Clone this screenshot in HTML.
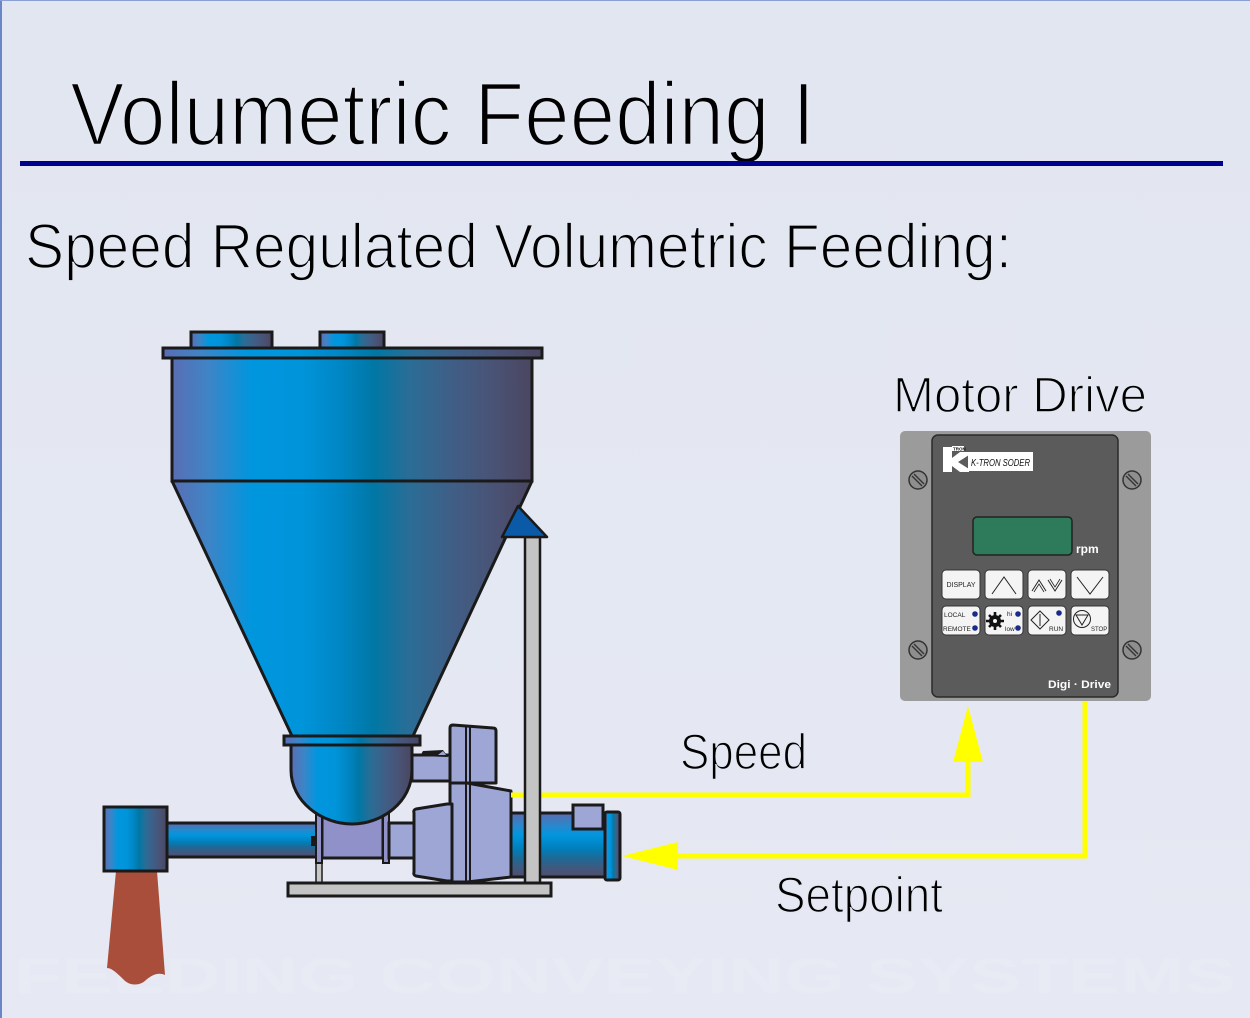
<!DOCTYPE html>
<html>
<head>
<meta charset="utf-8">
<style>
html,body{margin:0;padding:0;background:#e3e7f1;}
svg{display:block;}
text{font-family:"Liberation Sans",sans-serif;}
</style>
</head>
<body>
<svg width="1250" height="1018" viewBox="0 0 1250 1018" xmlns="http://www.w3.org/2000/svg">
<defs>
  <linearGradient id="hg" x1="0" y1="0" x2="1" y2="0">
    <stop offset="0" stop-color="#5a6db4"/>
    <stop offset="0.1" stop-color="#3f84c6"/>
    <stop offset="0.22" stop-color="#0096de"/>
    <stop offset="0.36" stop-color="#0094da"/>
    <stop offset="0.47" stop-color="#0086c4"/>
    <stop offset="0.56" stop-color="#0077a5"/>
    <stop offset="0.66" stop-color="#2a6d96"/>
    <stop offset="0.78" stop-color="#405e86"/>
    <stop offset="0.9" stop-color="#4a5274"/>
    <stop offset="1" stop-color="#4a4660"/>
  </linearGradient>
  <linearGradient id="vg" x1="0" y1="0" x2="0" y2="1">
    <stop offset="0" stop-color="#5a6cb0"/>
    <stop offset="0.2" stop-color="#2a88cc"/>
    <stop offset="0.35" stop-color="#0096de"/>
    <stop offset="0.55" stop-color="#0080bc"/>
    <stop offset="0.7" stop-color="#1c6a98"/>
    <stop offset="0.85" stop-color="#3e5a80"/>
    <stop offset="1" stop-color="#524e6a"/>
  </linearGradient>
  <linearGradient id="bg" x1="0" y1="0" x2="0" y2="1">
    <stop offset="0" stop-color="#e2e6f0"/>
    <stop offset="1" stop-color="#e6e9f3"/>
  </linearGradient>
</defs>

<rect x="0" y="0" width="1250" height="1018" fill="url(#bg)"/>
<rect x="0" y="0" width="2" height="1018" fill="#6a86c8"/>
<rect x="0" y="0" width="1250" height="1" fill="#8aa0d4"/>

<!-- watermark -->
<text x="14" y="993" font-size="50" font-weight="bold" fill="#ffffff" fill-opacity="0.12" textLength="1222" lengthAdjust="spacingAndGlyphs">FEEDING CONVEYING SYSTEMS</text>

<!-- Title -->
<text x="70" y="145" font-size="90" fill="#000" stroke="#e3e7f1" stroke-width="2.5" textLength="745" lengthAdjust="spacingAndGlyphs">Volumetric Feeding I</text>
<rect x="20" y="161" width="1203" height="5" fill="#00008f"/>
<text x="25" y="268" font-size="63" fill="#000" stroke="#e3e7f1" stroke-width="1.8" textLength="987" lengthAdjust="spacingAndGlyphs">Speed Regulated Volumetric Feeding:</text>

<!-- Motor Drive label -->
<text x="893" y="412" font-size="50" fill="#000" stroke="#e3e7f1" stroke-width="1.5" textLength="254" lengthAdjust="spacingAndGlyphs">Motor Drive</text>

<!-- ===== Feeder ===== -->
<path d="M116,871 L157,871 L165,975 C158,972 152,975 146,980 C140,986 130,986 124,980 C118,974 112,968 107,968 Z" fill="#a84e3a"/>

<rect x="167" y="823" width="151" height="34" fill="url(#vg)" stroke="#1a1a1a" stroke-width="3"/>
<rect x="104" y="807" width="63" height="64" fill="url(#hg)" stroke="#1a1a1a" stroke-width="3"/>
<rect x="311" y="836" width="5" height="10" fill="#1a1a1a"/>

<rect x="316" y="857" width="6" height="27" fill="#c8c8c8" stroke="#1a1a1a" stroke-width="1.5"/>

<rect x="322" y="815" width="61" height="43" fill="#9091c9" stroke="#1a1a1a" stroke-width="3"/>
<rect x="316" y="812" width="6" height="51" fill="#9091c9" stroke="#1a1a1a" stroke-width="2"/>
<rect x="383" y="812" width="6" height="51" fill="#9091c9" stroke="#1a1a1a" stroke-width="2"/>
<rect x="389" y="823" width="25" height="35" fill="#9ea6d6" stroke="#1a1a1a" stroke-width="3"/>

<path d="M291,745 L291,770 C291,802 322,824 352,824 C382,824 412,802 412,770 L412,745 Z" fill="url(#hg)" stroke="#1a1a1a" stroke-width="3"/>

<rect x="412" y="755" width="40" height="26" fill="#9ea6d6" stroke="#1a1a1a" stroke-width="3"/>
<path d="M420,756 L423,751 L443,750 L448,757 Z" fill="#1a1a1a"/>
<path d="M438,755 L443,751 L446,755 Z" fill="#9ea6d6"/>

<polygon points="172,481 532,481 413,736 292,736" fill="url(#hg)" stroke="#1a1a1a" stroke-width="3" stroke-linejoin="round"/>
<rect x="284" y="736" width="136" height="9" fill="url(#hg)" stroke="#1a1a1a" stroke-width="3"/>
<rect x="172" y="358" width="360" height="123" fill="url(#hg)" stroke="#1a1a1a" stroke-width="3"/>
<rect x="163" y="348" width="379" height="10" fill="url(#hg)" stroke="#1a1a1a" stroke-width="3"/>
<rect x="191" y="332" width="81" height="16" fill="url(#hg)" stroke="#1a1a1a" stroke-width="3"/>
<rect x="320" y="332" width="64" height="16" fill="url(#hg)" stroke="#1a1a1a" stroke-width="3"/>

<path d="M450,783 L450,728 Q450,725 453,725 L493,728 Q496,728 496,731 L496,783 Z" fill="#9ea6d6" stroke="#1a1a1a" stroke-width="3" stroke-linejoin="round"/>
<path d="M450,783 L467,783 L511,791 L511,877 L467,882 L450,882 Z" fill="#9ea6d6" stroke="#1a1a1a" stroke-width="3" stroke-linejoin="round"/>
<line x1="466" y1="727" x2="466" y2="882" stroke="#1a1a1a" stroke-width="2"/>
<line x1="470" y1="727" x2="470" y2="882" stroke="#1a1a1a" stroke-width="2"/>
<line x1="450" y1="783" x2="496" y2="783" stroke="#1a1a1a" stroke-width="3"/>
<path d="M414,813 Q413,810 416,809 L447,804 L452,804 L452,881 L447,881 L416,876 Q413,875 414,872 Z" fill="#9ea6d6" stroke="#1a1a1a" stroke-width="3" stroke-linejoin="round"/>

<rect x="511" y="813" width="94" height="64" fill="url(#vg)" stroke="#1a1a1a" stroke-width="3"/>
<rect x="605" y="812" width="15" height="68" rx="2" fill="url(#hg)" stroke="#1a1a1a" stroke-width="3"/>
<rect x="573" y="805" width="30" height="24" fill="#9ea6d6" stroke="#1a1a1a" stroke-width="3"/>

<polyline points="511,795 968,795 968,760" fill="none" stroke="#ffff00" stroke-width="5"/>
<polygon points="968,706 953,762 983,762" fill="#ffff00"/>

<polyline points="1085,700 1085,856 676,856" fill="none" stroke="#ffff00" stroke-width="5"/>
<polygon points="622,856 678,842 678,870" fill="#ffff00"/>

<rect x="525" y="537" width="15" height="347" fill="#c4c4c4" stroke="#1a1a1a" stroke-width="2.5"/>
<polygon points="518,506 502,537 547,537" fill="#0a5aa8" stroke="#1a1a1a" stroke-width="2.5" stroke-linejoin="round"/>
<rect x="288" y="883" width="263" height="13" fill="#c4c4c4" stroke="#1a1a1a" stroke-width="3"/>

<text x="680" y="769" font-size="50" fill="#000" stroke="#e3e7f1" stroke-width="1.5" textLength="127" lengthAdjust="spacingAndGlyphs">Speed</text>
<text x="775" y="912" font-size="50" fill="#000" stroke="#e3e7f1" stroke-width="1.5" textLength="168" lengthAdjust="spacingAndGlyphs">Setpoint</text>

<!-- ===== Motor drive panel ===== -->
<rect x="900" y="431" width="251" height="270" rx="5" fill="#9b9b9b"/>
<rect x="932" y="435" width="186" height="262" rx="6" fill="#5b5b5b" stroke="#2a2a2a" stroke-width="1.5"/>

<g stroke="#333" stroke-width="1.5" fill="#8e8e8e">
  <circle cx="918" cy="480" r="9"/>
  <circle cx="1132" cy="480" r="9"/>
  <circle cx="918" cy="650" r="9"/>
  <circle cx="1132" cy="650" r="9"/>
</g>
<g stroke="#333" stroke-width="1.3">
  <line x1="912" y1="476" x2="922" y2="486"/><line x1="914" y1="474" x2="924" y2="484"/>
  <line x1="1126" y1="476" x2="1136" y2="486"/><line x1="1128" y1="474" x2="1138" y2="484"/>
  <line x1="912" y1="646" x2="922" y2="656"/><line x1="914" y1="644" x2="924" y2="654"/>
  <line x1="1126" y1="646" x2="1136" y2="656"/><line x1="1128" y1="644" x2="1138" y2="654"/>
</g>

<path d="M943,447 L952,447 L952,458 L960,452 L969,452 L969,455 L958,462 L969,469 L969,472 L960,472 L952,466 L952,472 L943,472 Z" fill="#ffffff"/>
<rect x="952" y="446" width="12" height="5" fill="#ffffff"/>
<text x="953" y="450.5" font-size="4.5" font-weight="bold" fill="#111">TRON</text>
<rect x="968" y="452" width="65" height="19" fill="#ffffff"/>
<text x="971" y="466" font-size="10" font-style="italic" fill="#111" textLength="59" lengthAdjust="spacingAndGlyphs">K-TRON SODER</text>

<rect x="973" y="517" width="99" height="38" rx="4" fill="#2d7b5a" stroke="#222" stroke-width="1.5"/>
<text x="1076" y="553" font-size="12" font-weight="bold" fill="#ffffff">rpm</text>

<g fill="#f4f4f4" stroke="#333" stroke-width="1">
  <rect x="942" y="570" width="38" height="29" rx="4"/>
  <rect x="985" y="570" width="38" height="29" rx="4"/>
  <rect x="1028" y="570" width="38" height="29" rx="4"/>
  <rect x="1071" y="570" width="38" height="29" rx="4"/>
  <rect x="942" y="606" width="38" height="29" rx="4"/>
  <rect x="985" y="606" width="38" height="29" rx="4"/>
  <rect x="1028" y="606" width="38" height="29" rx="4"/>
  <rect x="1071" y="606" width="38" height="29" rx="4"/>
</g>
<text x="961" y="587" font-size="7" fill="#222" text-anchor="middle">DISPLAY</text>
<polyline points="992,594 1004,577 1016,594" fill="none" stroke="#222" stroke-width="1"/>
<polyline points="1032,591 1039,580 1046,591" fill="none" stroke="#222" stroke-width="1"/>
<polyline points="1034,592 1039,584 1044,592" fill="none" stroke="#222" stroke-width="0.8"/>
<polyline points="1048,580 1055,591 1062,580" fill="none" stroke="#222" stroke-width="1"/>
<polyline points="1050,579 1055,587 1060,579" fill="none" stroke="#222" stroke-width="0.8"/>
<polyline points="1077,577 1090,594 1103,577" fill="none" stroke="#222" stroke-width="1"/>

<text x="944" y="617" font-size="6.5" fill="#222">LOCAL</text>
<text x="943" y="631" font-size="6.5" fill="#222">REMOTE</text>
<circle cx="975" cy="614" r="2.8" fill="#1a2a8a"/>
<circle cx="975" cy="628" r="2.8" fill="#1a2a8a"/>

<g fill="#111">
  <circle cx="995" cy="621" r="6"/>
  <g stroke="#111" stroke-width="2.6">
    <line x1="995" y1="612" x2="995" y2="630"/>
    <line x1="986" y1="621" x2="1004" y2="621"/>
    <line x1="989" y1="615" x2="1001" y2="627"/>
    <line x1="1001" y1="615" x2="989" y2="627"/>
  </g>
  <circle cx="995" cy="621" r="2" fill="#f4f4f4"/>
</g>
<text x="1007" y="616" font-size="6.5" fill="#222">hi</text>
<text x="1005" y="631" font-size="6.5" fill="#222">low</text>
<circle cx="1018" cy="614" r="2.8" fill="#1a2a8a"/>
<circle cx="1018" cy="628" r="2.8" fill="#1a2a8a"/>

<polygon points="1040,611 1049,620 1040,629 1031,620" fill="none" stroke="#222" stroke-width="1"/>
<line x1="1040" y1="614" x2="1040" y2="626" stroke="#222" stroke-width="1"/>
<circle cx="1059" cy="613" r="2.8" fill="#1a2a8a"/>
<text x="1049" y="631" font-size="6.5" fill="#222">RUN</text>

<circle cx="1082" cy="619" r="8.5" fill="none" stroke="#222" stroke-width="1"/>
<polygon points="1076,615 1088,615 1082,625" fill="none" stroke="#222" stroke-width="1"/>
<text x="1091" y="631" font-size="6" fill="#222">STOP</text>

<text x="1048" y="688" font-size="11" font-weight="bold" fill="#ffffff" textLength="63" lengthAdjust="spacingAndGlyphs">Digi · Drive</text>
</svg>
</body>
</html>
